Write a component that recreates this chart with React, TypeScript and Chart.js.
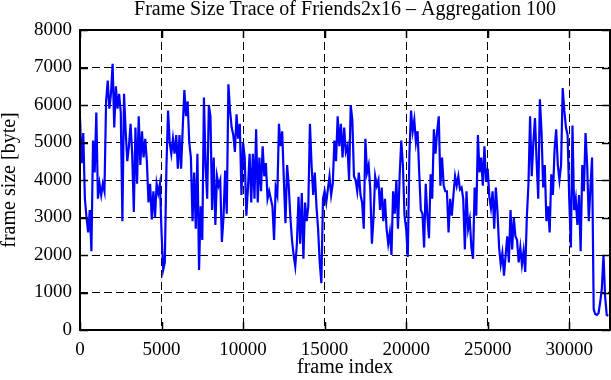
import React, { useEffect, useRef } from "react";
import { Chart, registerables } from "chart.js";

Chart.register(...registerables);

// Aggregated frame sizes (bytes), one value per 100 frames, frame 0 .. 32400
const aggregation = 100;
const frameSizes: number[] = [
  5650, 4450, 5250, 3500, 3000, 2600, 3200, 2100, 5050, 4200,
  5800, 3500, 3900, 3600, 3900, 3700, 6100, 6650, 5900, 6300,
  7100, 5400, 6500, 5900, 6300, 5800, 2900, 6300, 5300, 4500,
  4900, 5500, 4700, 3150, 5400, 3900, 5700, 4400, 5300, 4600,
  5100, 4500, 3400, 3900, 2950, 3700, 3000, 3900, 3650, 3900,
  2600, 1600, 1800, 4350, 5850, 5000, 4700, 5100, 4700, 5200,
  4300, 5200, 4300, 5400, 6400, 5700, 6100, 5000, 4600, 2900,
  4200, 2700, 4700, 1600, 3300, 2400, 6200, 4400, 3500, 6000,
  5700, 3200, 4600, 2800, 4100, 3850, 4000, 2350, 3000, 4250,
  3100, 6550, 5850, 5400, 5200, 4750, 5750, 5100, 5500, 3600,
  5000, 4600, 3050, 3800, 4700, 3400, 4700, 3500, 5350, 3400,
  4600, 3700, 4900, 4100, 4450, 3500, 3700, 3500, 3300, 2400,
  3800, 3600, 5500, 4900, 5300, 4000, 2850, 4400, 3850, 3000,
  2400, 2000, 1700, 2300, 3550, 2300, 3650, 1900, 3400, 2900,
  3300, 5500, 4400, 3600, 4200, 3300, 2700, 1800, 1250, 3500,
  3700, 3400, 3750, 4100, 3600, 3900, 5050, 4500, 5700, 4900,
  5500, 4600, 5400, 4750, 4900, 4000, 6000, 5600, 4100, 4000,
  3700, 4200, 3600, 3400, 2700, 5100, 4200, 4400, 3750, 2300,
  3000, 4100, 3850, 4000, 3200, 3800, 2900, 3500, 2700, 2300,
  2600, 2000, 3700, 3100, 4000, 2700, 4100, 5050, 4400, 3050,
  2700, 1950, 4700, 5850, 5300, 5600, 5000, 5300, 4200, 3200,
  3100, 2200, 3900, 3050, 2450, 4150, 3500, 5350, 4700, 5300,
  5700, 3850, 4600, 3850, 3700, 3700, 2600, 3500, 3050, 3600,
  4100, 3850, 4100, 3750, 3800, 3500, 2150, 3700, 2700, 2950,
  2200, 1900, 3800, 3050, 5200, 4200, 4600, 3850, 4900, 3950,
  4300, 3550, 3250, 3700, 2700, 3800, 3150, 2200, 1750, 2050,
  1450, 2000, 2500, 1800, 3200, 2150, 3000, 2500, 2400, 1800,
  2200, 1750, 2100, 1550, 3000, 3900, 5700, 4100, 5000, 5650,
  4500, 3500, 6150, 5300, 3800, 4400, 2900, 3300, 2600, 4150,
  3600, 4800, 5350, 4400, 4000, 4400, 6450, 5850, 5400, 5200,
  3500, 2200, 5450, 3200, 3500, 2800, 3600, 2100, 4400, 3700,
  5250, 4400, 2900, 3800, 4600, 550, 420, 400, 450, 750,
  1100, 2000, 900, 400, 380,
];

const titleText = "Frame Size Trace of Friends2x16 \u2013 Aggregation 100";
const xTitle = "frame index";
const yTitle = "frame size [byte]";
const xMin = 0;
const xMax = 32500;
const xTickValues = [0, 5000, 10000, 15000, 20000, 25000, 30000];
const yMin = 0;
const yMax = 8000;
const yTickValues = [0, 1000, 2000, 3000, 4000, 5000, 6000, 7000, 8000];

const FONT = '"Liberation Serif", "Times New Roman", serif';

const frameTicksPlugin = {
  id: "frameTicks",
  afterDraw(chart: any) {
    const { ctx, chartArea, scales } = chart;
    const { left, top, right, bottom } = chartArea;
    const tickLen = 8;
    ctx.save();
    ctx.strokeStyle = "#000";
    ctx.setLineDash([]);
    ctx.lineWidth = 1.5;
    ctx.beginPath();
    scales.x.ticks.forEach((t: any) => {
      const px = Math.round(scales.x.getPixelForValue(t.value)) + 0.5;
      ctx.moveTo(px, bottom);
      ctx.lineTo(px, bottom - tickLen);
      ctx.moveTo(px, top);
      ctx.lineTo(px, top + tickLen);
    });
    scales.y.ticks.forEach((t: any) => {
      const py = Math.round(scales.y.getPixelForValue(t.value)) + 0.5;
      ctx.moveTo(left, py);
      ctx.lineTo(left + tickLen, py);
      ctx.moveTo(right, py);
      ctx.lineTo(right - tickLen, py);
    });
    ctx.stroke();
    ctx.lineWidth = 2;
    ctx.strokeRect(left, top, right - left, bottom - top);
    ctx.fillStyle = "#000";
    ctx.font = `20px ${FONT}`;
    ctx.textAlign = "center";
    ctx.textBaseline = "alphabetic";
    ctx.fillText(titleText, (left + right) / 2, 15);
    ctx.restore();
  },
};

export default function App() {
  const canvasRef = useRef<HTMLCanvasElement | null>(null);

  useEffect(() => {
    if (!canvasRef.current) return;
    const points = frameSizes.map((v, i) => ({ x: i * aggregation, y: v }));
    const chart = new Chart(canvasRef.current, {
      type: "line",
      data: {
        datasets: [
          {
            data: points,
            borderColor: "#0000ff",
            borderWidth: 2.2,
            pointRadius: 0,
            tension: 0,
            fill: false,
          },
        ],
      },
      options: {
        animation: false,
        responsive: false,
        devicePixelRatio: 1,
        layout: { padding: { top: 30, right: 1, bottom: 0, left: 0 } },
        plugins: {
          legend: { display: false },
          title: { display: false },
          tooltip: { enabled: false },
        },
        scales: {
          x: {
            type: "linear",
            min: xMin,
            max: xMax,
            afterBuildTicks(scale: any) {
              scale.ticks = xTickValues.map((v) => ({ value: v }));
            },
            afterFit(scale: any) {
              scale.height = 50;
            },
            ticks: {
              color: "#000",
              padding: 9,
              maxRotation: 0,
              autoSkip: false,
              font: { family: FONT, size: 19 },
              callback: (v: any) => String(v),
            },
            grid: { color: "#000", lineWidth: 1, drawTicks: false },
            border: { display: false, dash: [8, 4] },
            title: {
              display: true,
              text: xTitle,
              color: "#000",
              font: { family: FONT, size: 20 },
              padding: { top: 0, bottom: 0 },
            },
          },
          y: {
            type: "linear",
            min: yMin,
            max: yMax,
            afterBuildTicks(scale: any) {
              scale.ticks = yTickValues.map((v) => ({ value: v }));
            },
            afterFit(scale: any) {
              scale.width = 80;
            },
            ticks: {
              color: "#000",
              padding: 8,
              font: { family: FONT, size: 19 },
              callback: (v: any) => String(v),
            },
            grid: { color: "#000", lineWidth: 1, drawTicks: false },
            border: { display: false, dash: [8, 4] },
            title: {
              display: true,
              text: yTitle,
              color: "#000",
              font: { family: FONT, size: 20, lineHeight: 1 },
              padding: { top: 0, bottom: 0 },
            },
          },
        },
      },
      plugins: [frameTicksPlugin],
    });
    return () => chart.destroy();
  }, []);

  return (
    <div style={{ position: "absolute", left: 0, top: 0, width: 611, height: 380, background: "#fff" }}>
      <canvas ref={canvasRef} width={611} height={380} style={{ display: "block" }} />
    </div>
  );
}
